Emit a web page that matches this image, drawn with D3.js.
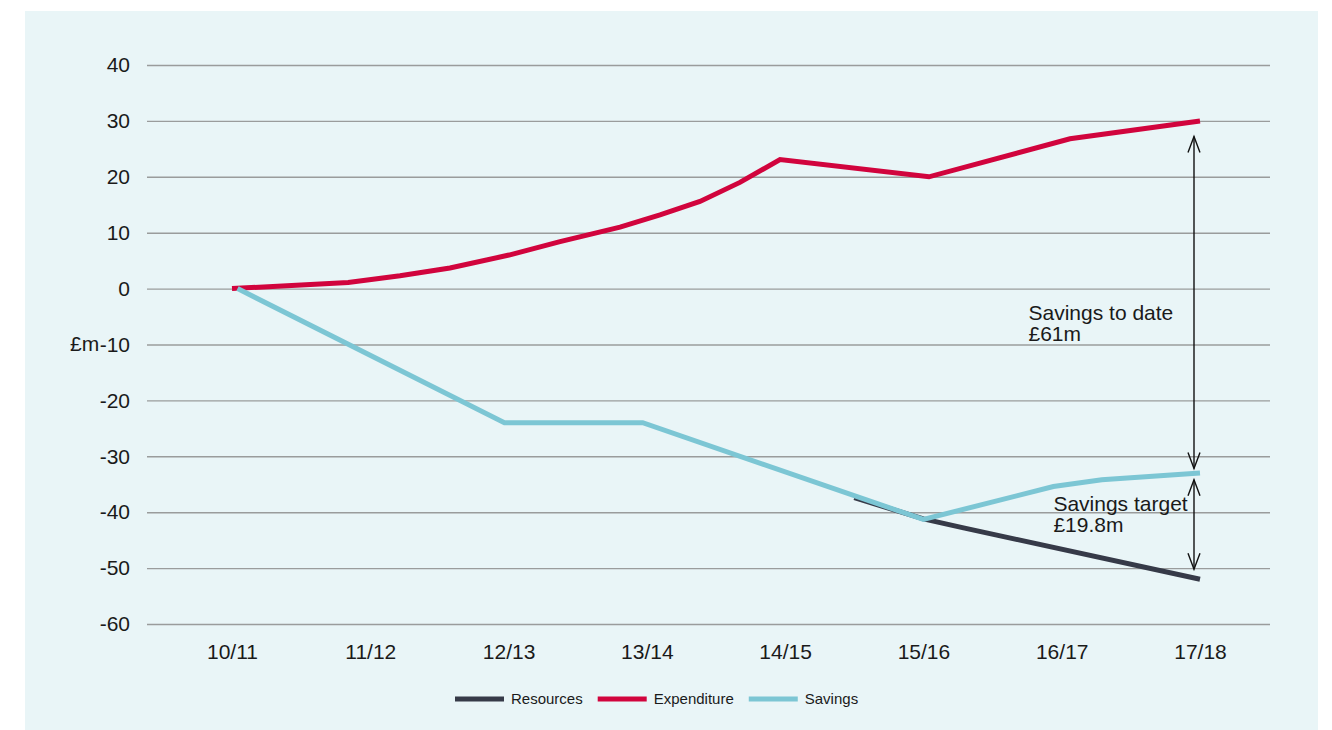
<!DOCTYPE html>
<html>
<head>
<meta charset="utf-8">
<script src="https://cdn.jsdelivr.net/npm/d3@7"></script>
<style>
  body { margin: 0; background: #fff; }
  svg text { font-family: "Liberation Sans", Arial, Helvetica, sans-serif; fill: #1a1a1a; }
</style>
</head>
<body>
<script>
var w = 1332;
var h = 730;

// financial years on the x axis
var years = ["10/11", "11/12", "12/13", "13/14", "14/15", "15/16", "16/17", "17/18"];

// points: x is position in years from 10/11, y is £m
var expenditureX = [0, 0.84, 1.215, 1.576, 2.003, 2.372, 2.806, 3.095, 3.384, 3.673, 3.963, 5.04, 6.06, 7];
var expenditureY = [0, 1.1, 2.3, 3.7, 6.0, 8.4, 11, 13.2, 15.6, 19.0, 23.1, 20, 26.8, 30];

var savingsX = [0.04, 1.97, 2.97, 5.0, 5.94, 6.29, 7];
var savingsY = [0, -24, -24, -41.3, -35.4, -34.2, -33];

var resourcesX = [4.5, 5.0, 5.29, 7];
var resourcesY = [-37.4, -41.2, -42.8, -52];

var yTicks = [40, 30, 20, 10, 0, -10, -20, -30, -40, -50, -60];

var seriesNames = ["Resources", "Expenditure", "Savings"];
var seriesColors = ["#363a48", "#d1043d", "#7cc6d4"];

// annotation arrows (£m) and labels
var arrowSpans = [[27.2, -32.2], [-34.2, -50.2]];
var noteLines = [["Savings to date", "£61m"], ["Savings target", "£19.8m"]];
var noteAt = [[5.76, -5.6], [5.94, -39.8]];

var x = d3.scaleLinear()
    .domain([0, 7])
    .range([232, 1200]);

var y = d3.scaleLinear()
    .domain([-60, 40])
    .range([624, 65]);

var svg = d3.select("body")
    .append("svg")
    .attr("width", w)
    .attr("height", h);

svg.append("rect")
    .attr("x", 25)
    .attr("y", 11)
    .attr("width", 1293)
    .attr("height", h - 11)
    .attr("fill", "#e9f5f7");

// y axis with gridlines
var yAxis = svg.append("g")
    .attr("transform", "translate(147,0)")
    .call(d3.axisLeft(y)
        .tickValues(yTicks)
        .tickSizeInner(-(1270 - 147))
        .tickSizeOuter(0)
        .tickPadding(17)
        .tickFormat(function(d) { return String(d); }));

yAxis.select(".domain").remove();
yAxis.selectAll(".tick line")
    .attr("stroke", "#9a9c9c")
    .attr("stroke-width", 1.4);
yAxis.selectAll(".tick text")
    .attr("font-size", 21)
    .attr("fill", "#1a1a1a")
    .attr("font-family", null);

svg.append("text")
    .attr("x", 70)
    .attr("y", y(-10))
    .attr("dy", "0.32em")
    .attr("font-size", 21)
    .text("£m");

// x axis labels
var xAxis = svg.append("g")
    .attr("transform", "translate(0," + y(-60) + ")")
    .call(d3.axisBottom(x)
        .tickValues(d3.range(years.length))
        .tickSize(0)
        .tickPadding(20)
        .tickFormat(function(d) { return years[d]; }));

xAxis.select(".domain").remove();
xAxis.selectAll(".tick text")
    .attr("font-size", 21)
    .attr("fill", "#1a1a1a")
    .attr("font-family", null);

var line = d3.line()
    .x(function(d) { return x(d[0]); })
    .y(function(d) { return y(d[1]); });

var series = [
    { xs: resourcesX, ys: resourcesY, color: seriesColors[0] },
    { xs: expenditureX, ys: expenditureY, color: seriesColors[1] },
    { xs: savingsX, ys: savingsY, color: seriesColors[2] }
];

svg.selectAll(".series")
    .data(series)
    .enter()
    .append("path")
    .attr("class", "series")
    .attr("d", function(s) { return line(d3.zip(s.xs, s.ys)); })
    .attr("fill", "none")
    .attr("stroke", function(s) { return s.color; })
    .attr("stroke-width", 5)
    .attr("stroke-linejoin", "miter");

// double headed arrows at 17/18
var arrowX = x(7) - 6;
arrowSpans.forEach(function(span) {
    var top = y(span[0]);
    var bottom = y(span[1]);
    var g = svg.append("g")
        .attr("fill", "none")
        .attr("stroke", "#111")
        .attr("stroke-width", 1.4);
    g.append("line")
        .attr("x1", arrowX).attr("x2", arrowX)
        .attr("y1", top).attr("y2", bottom);
    g.append("path")
        .attr("d", "M" + (arrowX - 6) + "," + (top + 16) + "L" + arrowX + "," + top + "L" + (arrowX + 6) + "," + (top + 16));
    g.append("path")
        .attr("d", "M" + (arrowX - 6) + "," + (bottom - 16) + "L" + arrowX + "," + bottom + "L" + (arrowX + 6) + "," + (bottom - 16));
});

noteLines.forEach(function(lines, i) {
    var t = svg.append("text")
        .attr("x", x(noteAt[i][0]))
        .attr("y", y(noteAt[i][1]))
        .attr("font-size", 21);
    lines.forEach(function(s, j) {
        t.append("tspan")
            .attr("x", x(noteAt[i][0]))
            .attr("dy", j === 0 ? 0 : 21)
            .text(s);
    });
});

// legend
var legend = svg.append("g")
    .attr("transform", "translate(455,699)");
var lx = 0;
seriesNames.forEach(function(name, i) {
    legend.append("line")
        .attr("x1", lx).attr("x2", lx + 49)
        .attr("y1", 0).attr("y2", 0)
        .attr("stroke", seriesColors[i])
        .attr("stroke-width", 5);
    var t = legend.append("text")
        .attr("x", lx + 56)
        .attr("y", 5)
        .attr("font-size", 15)
        .text(name);
    lx = lx + 56 + t.node().getComputedTextLength() + 15;
});
</script>
</body>
</html>
